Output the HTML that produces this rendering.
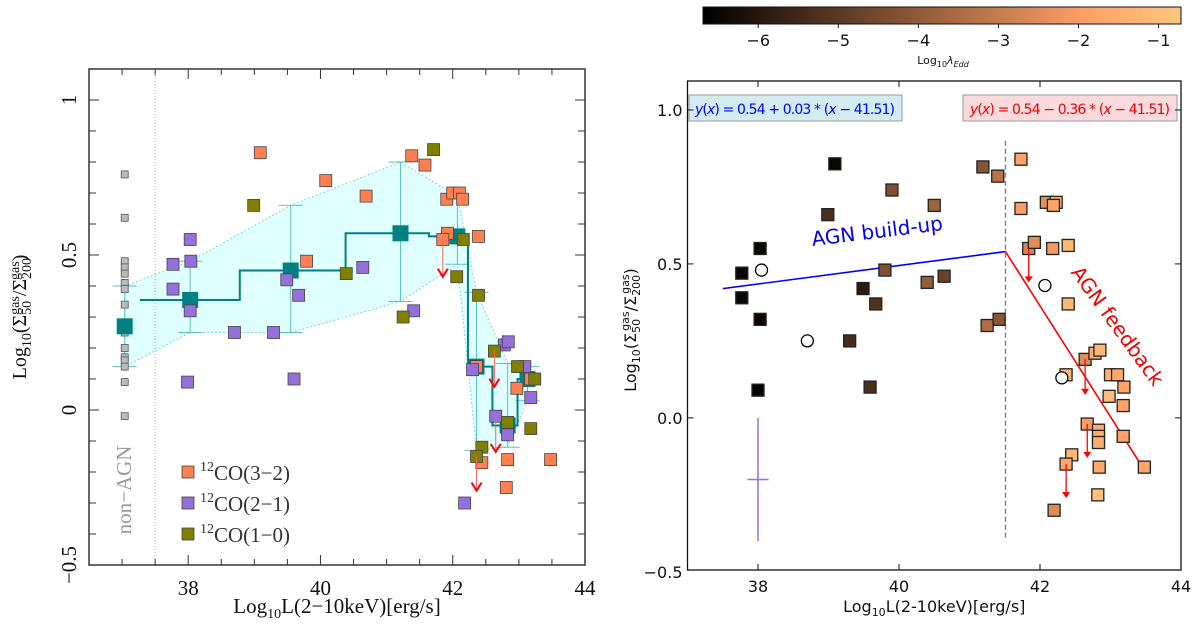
<!DOCTYPE html>
<html><head><meta charset="utf-8"><style>
html,body{margin:0;padding:0;background:#fff;}
svg{display:block;}
</style></head><body>
<svg id="fig" width="1200" height="624" viewBox="0 0 1200 624" xmlns="http://www.w3.org/2000/svg">
<defs>
<linearGradient id="copper" x1="0" x2="1" y1="0" y2="0">
<stop offset="0" stop-color="#000000"/>
<stop offset="0.8" stop-color="#ffa066"/>
<stop offset="1" stop-color="#ffc77f"/>
</linearGradient>
</defs>
<g id="left"></g>
<g id="right"></g>
<g id="cbar"></g>
</svg>
<script>
// ---------- LEFT PANEL DATA ----------
const nonAgnY = [0.76,0.62,0.48,0.46,0.44,0.41,0.39,0.34,0.27,0.27,0.25,0.20,0.17,0.16,0.14,0.09,-0.02];
const co32X = [39.09,40.08,40.69,41.38,41.58,41.91,42.0,42.1,42.15,41.92,41.85,42.39,39.79,42.36,43.18,42.97,42.44,42.83,43.48,42.81];
const co32Y = [0.83,0.74,0.69,0.82,0.79,0.68,0.70,0.70,0.68,0.57,0.55,0.56,0.48,0.14,0.10,0.07,-0.17,-0.16,-0.16,-0.25];
const co21X = [38.03,37.77,38.04,37.77,38.03,39.49,39.67,40.64,41.41,38.7,39.29,37.99,39.6,42.78,42.84,42.3,43.09,43.18,42.65,42.83,42.83,42.18];
const co21Y = [0.55,0.47,0.48,0.39,0.32,0.42,0.37,0.46,0.32,0.25,0.25,0.09,0.10,0.21,0.22,0.13,0.14,0.04,-0.02,-0.06,-0.08,-0.30];
const co10X = [41.71,38.99,42.16,40.39,42.06,42.39,41.25,42.63,42.98,43.24,42.83,43.18,42.44,42.36];
const co10Y = [0.84,0.66,0.55,0.44,0.43,0.37,0.30,0.19,0.14,0.10,-0.04,-0.06,-0.12,-0.15];
const medX = [37.04,38.03,39.55,41.21,42.07,42.36,42.83,43.13];
const medY = [0.27,0.355,0.45,0.57,0.56,0.14,-0.05,0.10];
const medHi = [0.40,0.48,0.66,0.80,0.69,0.38,0.15,0.14];
const medLo = [0.14,0.25,0.25,0.35,0.47,-0.13,-0.12,0.03];
const stepEdges = [37.27,38.78,40.38,41.64,42.23,42.6,42.98,43.2];
const limX = [41.85,42.63,42.65,42.36];
const limFrom = [0.55,0.19,-0.02,-0.15];
const limTo = [0.43,0.075,-0.135,-0.26];

// ---------- RIGHT PANEL DATA ----------
const rX = [39.09,38.03,37.77,37.77,38.03,38.99,39.9,40.5,41.19,41.4,41.73,41.73,42.09,42.23,42.19,39.8,39.49,39.67,40.4,40.64,41.25,41.42,41.84,41.92,42.18,42.4,42.4,39.3,38.0,39.59,42.64,42.78,42.85,42.37,43.0,43.1,43.19,42.98,43.18,42.67,42.83,42.83,42.83,43.18,42.45,42.37,42.84,43.48,42.82,42.2];
const rY = [0.825,0.55,0.47,0.39,0.32,0.66,0.74,0.69,0.815,0.785,0.84,0.68,0.70,0.70,0.69,0.48,0.42,0.37,0.44,0.46,0.30,0.32,0.55,0.57,0.55,0.56,0.37,0.25,0.09,0.10,0.19,0.21,0.22,0.14,0.14,0.14,0.10,0.07,0.04,-0.02,-0.04,-0.06,-0.08,-0.06,-0.12,-0.15,-0.16,-0.16,-0.25,-0.30];
const rLam = [-6.5,-6.5,-6.5,-6.5,-6.5,-5.3,-4.3,-3.7,-4.2,-3.2,-1.8,-2.0,-2.4,-1.5,-1.8,-4.3,-5.9,-5.2,-3.9,-4.7,-3.4,-4.1,-2.7,-2.5,-2.1,-1.2,-1.2,-5.4,-6.6,-5.3,-2.5,-1.5,-1.2,-1.3,-1.3,-1.6,-1.8,-1.1,-1.8,-2.0,-1.5,-1.6,-1.5,-1.8,-1.2,-1.6,-1.6,-1.8,-0.9,-2.5];
const circX = [38.05,38.7,42.07,42.31];
const circY = [0.48,0.25,0.43,0.13];
const rLimX = [41.84,42.64,42.67,42.37];
const rLimFrom = [0.55,0.19,-0.02,-0.15];
const rLimTo = [0.44,0.075,-0.13,-0.26];
const fitBreak = 41.51, fitY0 = 0.54, slopeUp = 0.03, slopeDown = -0.36;
const fitStart = 37.5, fitEnd = 43.5;
const lamTicks = [-6,-5,-4,-3,-2,-1];
const lamMin = -6.69, lamMax = -0.72;

const NS = "http://www.w3.org/2000/svg";
function mk(parent, tag, attrs, text){
  const e = document.createElementNS(NS, tag);
  for (const k in attrs) e.setAttribute(k, attrs[k]);
  if (text !== undefined) e.textContent = text;
  parent.appendChild(e);
  return e;
}

// ===== LEFT =====
(function(){
  const g = document.getElementById('left');
  const L=89,R=585,T=69,B=565, x0=36.5,x1=44, y0=-0.5,y1=1.1;
  const sx = v => L + (v-x0)/(x1-x0)*(R-L);
  const sy = v => B - (v-y0)/(y1-y0)*(B-T);
  const serif = '"Liberation Serif", serif';
  let pts = medX.map((x,i)=>sx(x)+','+sy(medHi[i]));
  pts = pts.concat(medX.slice().reverse().map((x,j)=>{const i=medX.length-1-j; return sx(x)+','+sy(medLo[i]);}));
  let env = mk(g,'polygon',{points:pts.join(' '),fill:'#e0ffff',stroke:'#66cccc','stroke-width':1,'stroke-dasharray':'1.5,2.5'});
   
  let dv = mk(g,'line',{x1:sx(37.5),x2:sx(37.5),y1:T,y2:B,stroke:'#aaa','stroke-width':1,'stroke-dasharray':'1,2'});
   
  medX.forEach((x,i)=>{
    const eb = mk(g,'g',{stroke:'#5fbfbf','stroke-width':1});
     
    mk(eb,'line',{x1:sx(x),x2:sx(x),y1:sy(medHi[i]),y2:sy(medLo[i])});
    mk(eb,'line',{x1:sx(x)-12,x2:sx(x)+12,y1:sy(medHi[i]),y2:sy(medHi[i])});
    mk(eb,'line',{x1:sx(x)-12,x2:sx(x)+12,y1:sy(medLo[i]),y2:sy(medLo[i])});
  });
  let d='M'+sx(stepEdges[0])+','+sy(medY[1]);
  for(let i=1;i<medX.length-1;i++){ d+=' L'+sx(stepEdges[i])+','+sy(medY[i])+' L'+sx(stepEdges[i])+','+sy(medY[i+1]); }
  d+=' L'+sx(stepEdges[medX.length-1])+','+sy(medY[medX.length-1]);
  let st = mk(g,'path',{d:d,fill:'none',stroke:'#008080','stroke-width':2});
   
  nonAgnY.forEach(y=>{
    const r = mk(g,'rect',{x:sx(37.04)-3.5,y:sy(y)-3.5,width:7,height:7,fill:'#bbb',stroke:'#555','stroke-width':0.8});
     
  });
  medX.forEach((x,i)=>{
    const r = mk(g,'rect',{x:sx(x)-8,y:sy(medY[i])-8,width:16,height:16,fill:'#008080'});
     
  });
  function series(X,Y,col,name){
    X.forEach((x,i)=>{
      const r = mk(g,'rect',{x:sx(x)-6,y:sy(Y[i])-6,width:12,height:12,fill:col,stroke:'#444','stroke-width':0.8});
       
    });
  }
  series(co32X,co32Y,'#ff7f50','co32-point');
  series(co21X,co21Y,'#9370db','co21-point');
  series(co10X,co10Y,'#808000','co10-point');
  limX.forEach((x,i)=>{
    const a = mk(g,'g',{stroke:'#ff6060','stroke-width':1,fill:'none'});
     
    mk(a,'line',{x1:sx(x),x2:sx(x),y1:sy(limFrom[i]),y2:sy(limTo[i])});
    mk(a,'path',{d:`M${sx(x)-5},${sy(limTo[i])-8} L${sx(x)},${sy(limTo[i])} L${sx(x)+5},${sy(limTo[i])-8}`,stroke:'#f00','stroke-width':2});
  });
  let fr = mk(g,'rect',{x:L,y:T,width:R-L,height:B-T,fill:'none',stroke:'#333','stroke-width':1.5});
   
  for(let v=37;v<=43.51;v+=0.5){
    const major = Math.abs(v-Math.round(v/2)*2)<1e-6;
    const len = major?10:6;
    mk(g,'line',{x1:sx(v),x2:sx(v),y1:B,y2:B-len,stroke:'#333'});
    mk(g,'line',{x1:sx(v),x2:sx(v),y1:T,y2:T+len,stroke:'#333'});
  }
  [38,40,42,44].forEach(v=>{
    const t = mk(g,'text',{x:sx(v),y:B+30,'text-anchor':'middle','font-family':serif,'font-size':21,fill:'#111'},String(v));
     
  });
  for(let k=-4;k<=10;k++){
    const v=k/10; const major = (k%5===0); const len=major?10:7;
    mk(g,'line',{x1:L,x2:L+len,y1:sy(v),y2:sy(v),stroke:'#333'});
    mk(g,'line',{x1:R,x2:R-len,y1:sy(v),y2:sy(v),stroke:'#333'});
  }
  [[1,'1'],[0.5,'0.5'],[0,'0'],[-0.5,'\u22120.5']].forEach(([v,s])=>{
    const t = mk(g,'text',{x:0,y:0,transform:`translate(76,${sy(v)}) rotate(-90)`,'text-anchor':'middle','font-family':serif,'font-size':21,fill:'#111'},s);
     
  });
  const xt = mk(g,'text',{x:(L+R)/2,y:613,'text-anchor':'middle','font-family':serif,'font-size':21,fill:'#111'});
   
  xt.innerHTML='Log<tspan font-size="14" dy="5">10</tspan><tspan dy="-5">L(2\u221210keV)[erg/s]</tspan>';
  const yt = mk(g,'text',{x:0,y:0,transform:'translate(26,317) rotate(-90)','text-anchor':'middle','font-family':serif,'font-size':20,fill:'#111'});
   
  yt.innerHTML='Log<tspan font-size="14" dy="5">10</tspan><tspan dy="-5">(\u03A3</tspan><tspan font-size="14" dy="5">50</tspan><tspan font-size="14" dy="-12" dx="-14">gas</tspan><tspan dy="7">/\u03A3</tspan><tspan font-size="14" dy="5">200</tspan><tspan font-size="14" dy="-12" dx="-22">gas</tspan><tspan dy="7">)</tspan>';
  const na = mk(g,'text',{x:0,y:0,transform:`translate(131,490) rotate(-90)`,'text-anchor':'middle','font-family':serif,'font-size':21,fill:'#999'},'non\u2212AGN');
   
  [['#ff7f50','3\u22122'],['#9370db','2\u22121'],['#808000','1\u22120']].forEach(([c,s],i)=>{
    const le = mk(g,'g',{});
     
    const y=472+i*31;
    mk(le,'rect',{x:182,y:y-6,width:12,height:12,fill:c,stroke:'#444','stroke-width':0.8});
    const t = mk(le,'text',{x:200,y:y+8,'font-family':serif,'font-size':21,fill:'#333'});
    t.innerHTML='<tspan font-size="14" dy="-9">12</tspan><tspan dy="9">CO('+s+')</tspan>';
  });
})();

// ===== RIGHT =====
function copper(l){
  let t=(l-lamMin)/(lamMax-lamMin); t=Math.max(0,Math.min(1,t));
  const r=Math.min(1,1.25*t), gg=Math.min(1,0.7812*t), b=Math.min(1,0.4975*t);
  return `rgb(${Math.round(r*255)},${Math.round(gg*255)},${Math.round(b*255)})`;
}
(function(){
  const g = document.getElementById('right');
  const L=687.5,R=1181,T=81,B=570, x0=37,x1=44, y0=-0.494,y1=1.094;
  const sx = v => L + (v-x0)/(x1-x0)*(R-L);
  const sy = v => B - (v-y0)/(y1-y0)*(B-T);
  const sans = '"DejaVu Sans", "Liberation Sans", sans-serif';
  const b1 = mk(g,'g',{});  
  mk(b1,'rect',{x:689,y:95,width:213,height:26,fill:'#d5ebf2',stroke:'#999','stroke-width':1});
  mk(b1,'text',{x:795,y:114,'text-anchor':'middle','font-family':sans,'font-size':14,fill:'#0000ee',textLength:200}).innerHTML='<tspan font-style="italic">y</tspan>(<tspan font-style="italic">x</tspan>) = 0.54 + 0.03 * (<tspan font-style="italic">x</tspan> \u2212 41.51)';
  const b2 = mk(g,'g',{});  
  mk(b2,'rect',{x:963,y:95,width:214,height:26,fill:'#fadadd',stroke:'#999','stroke-width':1});
  mk(b2,'text',{x:1070,y:114,'text-anchor':'middle','font-family':sans,'font-size':14,fill:'#ee0000',textLength:200}).innerHTML='<tspan font-style="italic">y</tspan>(<tspan font-style="italic">x</tspan>) = 0.54 \u2212 0.36 * (<tspan font-style="italic">x</tspan> \u2212 41.51)';
  const dl = mk(g,'line',{x1:sx(fitBreak),x2:sx(fitBreak),y1:sy(0.9),y2:sy(-0.4),stroke:'#888','stroke-width':1.5,'stroke-dasharray':'5,3'});
   
  const fu = mk(g,'line',{x1:sx(fitStart),y1:sy(fitY0+slopeUp*(fitStart-fitBreak)),x2:sx(fitBreak),y2:sy(fitY0),stroke:'#0000ff','stroke-width':1.6});
   
  const fd = mk(g,'line',{x1:sx(fitBreak),y1:sy(fitY0),x2:sx(fitEnd),y2:sy(fitY0+slopeDown*(fitEnd-fitBreak)),stroke:'#ff0000','stroke-width':1.6});
   
  const ec = mk(g,'g',{stroke:'#9370db','stroke-width':1.5});
   
  mk(ec,'line',{x1:sx(38),x2:sx(38),y1:sy(0),y2:sy(-0.4)});
  mk(ec,'line',{x1:sx(37.85),x2:sx(38.15),y1:sy(-0.2),y2:sy(-0.2)});
  rX.forEach((x,i)=>{
    const r = mk(g,'rect',{x:sx(x)-6,y:sy(rY[i])-6,width:12,height:12,fill:copper(rLam[i]),stroke:'#222','stroke-width':1.3});
     
  });
  circX.forEach((x,i)=>{
    const c = mk(g,'circle',{cx:sx(x),cy:sy(circY[i]),r:6,fill:'#fff',stroke:'#000','stroke-width':1.3});
     
  });
  rLimX.forEach((x,i)=>{
    const a = mk(g,'g',{stroke:'#f00','stroke-width':1.3,fill:'#f00'});
     
    mk(a,'line',{x1:sx(x),x2:sx(x),y1:sy(rLimFrom[i]),y2:sy(rLimTo[i])-4});
    mk(a,'path',{d:`M${sx(x)-4},${sy(rLimTo[i])-6} L${sx(x)},${sy(rLimTo[i])} L${sx(x)+4},${sy(rLimTo[i])-6}Z`,stroke:'none'});
  });
  const t1 = mk(g,'text',{x:0,y:0,transform:'translate(878,238) rotate(-7)','text-anchor':'middle','font-family':sans,'font-size':20,fill:'#0000ee'},'AGN build-up');
   
  const t2 = mk(g,'text',{x:0,y:0,transform:'translate(1112,330) rotate(54)','text-anchor':'middle','font-family':sans,'font-size':20,fill:'#ee0000'},'AGN feedback');
   
  const fr = mk(g,'rect',{x:L,y:T,width:R-L,height:B-T,fill:'none',stroke:'#111','stroke-width':1.3});
   
  [38,40,42].forEach(v=>{
    mk(g,'line',{x1:sx(v),x2:sx(v),y1:B,y2:B-6,stroke:'#111'});
    mk(g,'line',{x1:sx(v),x2:sx(v),y1:T,y2:T+6,stroke:'#111'});
  });
  [38,40,42,44].forEach(v=>{
    const t=mk(g,'text',{x:sx(v),y:B+22,'text-anchor':'middle','font-family':sans,'font-size':16,fill:'#111'},String(v));
     
  });
  [[1,'1.0'],[0.5,'0.5'],[0,'0.0'],[-0.5,'\u22120.5']].forEach(([v,s])=>{
    if(v>-0.5){ mk(g,'line',{x1:L,x2:L+6,y1:sy(v),y2:sy(v),stroke:'#111'}); mk(g,'line',{x1:R,x2:R-6,y1:sy(v),y2:sy(v),stroke:'#111'}); }
    const t=mk(g,'text',{x:L-5,y:sy(v)+6,'text-anchor':'end','font-family':sans,'font-size':16,fill:'#111'},s);
     
  });
  const xt = mk(g,'text',{x:(L+R)/2,y:612,'text-anchor':'middle','font-family':sans,'font-size':16,fill:'#111'});
   
  xt.innerHTML='Log<tspan font-size="11" dy="4">10</tspan><tspan dy="-4">L(2-10keV)[erg/s]</tspan>';
  const yt = mk(g,'text',{x:0,y:0,transform:'translate(636,330) rotate(-90)','text-anchor':'middle','font-family':sans,'font-size':16,fill:'#111'});
   
  yt.innerHTML='Log<tspan font-size="11" dy="4">10</tspan><tspan dy="-4">(\u03A3</tspan><tspan font-size="11" dy="4">50</tspan><tspan font-size="11" dy="-11" dx="-12">gas</tspan><tspan dy="7">/\u03A3</tspan><tspan font-size="11" dy="4">200</tspan><tspan font-size="11" dy="-11" dx="-19">gas</tspan><tspan dy="7">)</tspan>';
})();

// ===== COLORBAR =====
(function(){
  const g = document.getElementById('cbar');
  const L=703,R=1181,T=7,B=24;
  const sx = v => L + (v-lamMin)/(lamMax-lamMin)*(R-L);
  mk(g,'rect',{x:L,y:T,width:R-L,height:B-T,fill:'url(#copper)',stroke:'#111','stroke-width':1});
  lamTicks.forEach(v=>{
    mk(g,'line',{x1:sx(v),x2:sx(v),y1:B,y2:B+4,stroke:'#111'});
    const t=mk(g,'text',{x:sx(v),y:B+22,'text-anchor':'middle','font-family':'"DejaVu Sans", sans-serif','font-size':16,fill:'#111'},String(v).replace('-','\u2212'));
     
  });
  const lt = mk(g,'text',{x:943,y:64,'text-anchor':'middle','font-family':'"DejaVu Sans", sans-serif','font-size':11,fill:'#111'});
   
  lt.innerHTML='Log<tspan font-size="8" dy="3">10</tspan><tspan dy="-3" font-style="italic">\u03BB</tspan><tspan font-size="8" dy="3" font-style="italic">Edd</tspan>';
})();
</script>
</body></html>
